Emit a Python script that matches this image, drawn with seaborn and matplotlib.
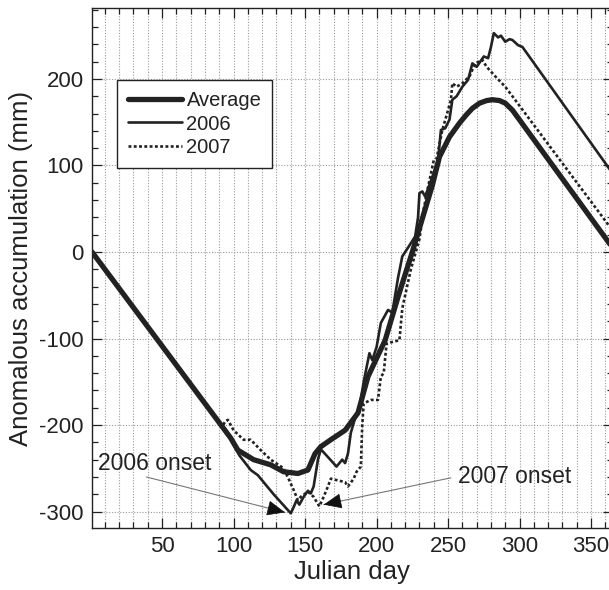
import matplotlib
matplotlib.use("Agg")
import matplotlib.pyplot as plt
import seaborn as sns
import pandas as pd

# ---- data ----
avg_days = [1, 98, 103, 114, 126, 135, 145, 152, 157, 161, 168, 178, 187, 194, 206, 215, 225,
            235, 239, 244, 251, 258, 263, 267, 272, 277, 281, 286, 290, 295, 365]
avg_vals = [0, -215, -229, -240, -246, -254, -256, -252, -233, -225, -217, -206, -186, -144, -102, -52, 0,
            55, 77, 110, 133, 149, 159, 166, 172, 175, 176, 175, 172, 164, 5]

y2006_days = [1, 96, 104, 112, 117, 128, 140, 142, 144, 146, 149, 152, 154, 156, 159, 161, 166, 172, 176,
              178, 180, 182, 185, 188, 191, 195, 197, 200, 203, 208, 211, 215, 218, 222, 227, 229, 230,
              232, 234, 239, 243, 245, 248, 251, 253, 256, 260, 264, 267, 270, 275, 278, 280, 282, 285,
              287, 290, 293, 295, 299, 302, 365]
y2006_vals = [0, -211, -235, -252, -258, -280, -302, -295, -287, -292, -283, -276, -279, -271, -240, -228,
              -237, -248, -240, -244, -233, -209, -192, -180, -150, -117, -125, -110, -82, -67, -70, -30,
              -5, 5, 18, 40, 68, 70, 64, 87, 106, 141, 143, 153, 176, 180, 191, 199, 218, 214, 226, 224,
              237, 253, 248, 250, 243, 246, 245, 239, 237, 91]

y2007_days = [1, 92, 94, 96, 100, 107, 112, 119, 126, 135, 139, 142, 145, 147, 152, 156, 160, 163, 166,
              168, 173, 178, 180, 184, 186, 189, 190, 191, 196, 201, 203, 205, 207, 211, 216, 218, 224,
              230, 233, 236, 240, 242, 246, 250, 252, 253, 256, 260, 265, 269, 274, 277, 283, 290, 295, 365]
y2007_vals = [0, -203, -196, -194, -206, -217, -217, -229, -240, -250, -264, -275, -287, -283, -277, -283,
              -294, -283, -271, -262, -264, -266, -271, -262, -254, -248, -200, -175, -171, -171, -144,
              -140, -106, -104, -102, -65, -20, 15, 50, 75, 106, 108, 141, 164, 176, 195, 191, 195, 203,
              218, 222, 214, 203, 191, 180, 25]

series_names = ["Average", "2006", "2007"]
x_ticks = [50, 100, 150, 200, 250, 300, 350]
y_ticks = [-300, -200, -100, 0, 100, 200]

# ---- style ----
sns.set_style("ticks")
plt.rcParams["font.family"] = ["Liberation Sans", "DejaVu Sans"]
plt.rcParams["axes.unicode_minus"] = False
ink = "#222222"

fig = plt.figure(figsize=(6.09, 5.90), dpi=100)
ax = fig.add_axes([92 / 609, 62 / 590, 520.5 / 609, 520 / 590])

df_avg = pd.DataFrame({"day": avg_days, "val": avg_vals})
df_06 = pd.DataFrame({"day": y2006_days, "val": y2006_vals})
df_07 = pd.DataFrame({"day": y2007_days, "val": y2007_vals})

sns.lineplot(data=df_07, x="day", y="val", ax=ax, color=ink, lw=1.9,
             linestyle=(0, (1.1, 0.9)), estimator=None, label=series_names[2], zorder=3)
sns.lineplot(data=df_06, x="day", y="val", ax=ax, color=ink, lw=1.9,
             estimator=None, label=series_names[1], zorder=4)
sns.lineplot(data=df_avg, x="day", y="val", ax=ax, color=ink, lw=3.8,
             estimator=None, label=series_names[0], zorder=5)

ax.set_xlim(1, 365)
ax.set_ylim(-319, 282)
ax.set_xticks(x_ticks)
ax.set_xticks(list(range(10, 370, 10)), minor=True)
ax.set_yticks(y_ticks)
ax.set_yticks(list(range(-300, 281, 20)), minor=True)
ax.set_yticklabels([str(v) for v in y_ticks])

ax.grid(which="both", axis="x", linestyle=(0, (1, 1.5)), color="#9a9a9a", lw=0.8)
ax.grid(which="major", axis="y", linestyle=(0, (1, 1.5)), color="#9a9a9a", lw=0.8)
ax.set_axisbelow(True)

ax.tick_params(which="both", direction="in", top=True, right=True, colors=ink,
               labelsize=16, width=0.9)
ax.tick_params(which="major", length=7, pad=6)
ax.tick_params(which="minor", length=4)
for s in ax.spines.values():
    s.set_color(ink)
    s.set_linewidth(1.0)

ax.set_xlabel("Julian day", fontsize=18.5, color=ink, labelpad=2)
ax.set_ylabel("Anomalous accumulation (mm)", fontsize=18.5, color=ink, labelpad=4)

# legend (order: Average, 2006, 2007)
h, l = ax.get_legend_handles_labels()
order = [l.index(n) for n in series_names]
leg = ax.legend([h[i] for i in order], [l[i] for i in order], loc="upper left",
                bbox_to_anchor=(0.048, 0.8615), borderaxespad=0, fontsize=14.5,
                handlelength=2.7, handletextpad=0.2, labelspacing=0.22,
                borderpad=0.55, fancybox=False, framealpha=1, edgecolor=ink)
leg.get_frame().set_linewidth(1.0)
for t in leg.get_texts():
    t.set_color(ink)

# annotations
line_kw = dict(arrowstyle="-", color="#777777", lw=0.8, shrinkA=0, shrinkB=0)
head_kw = dict(arrowstyle="-|>,head_length=0.9,head_width=0.38", color="#111111",
               lw=0.5, shrinkA=0, shrinkB=0, mutation_scale=13)

ax.text(5, -244, "2006 onset", fontsize=16.5, color=ink, va="center", ha="left")
ax.annotate("", xy=(136, -301), xytext=(39, -260), arrowprops=line_kw)
ax.annotate("", xy=(136, -301), xytext=(128, -297.6), arrowprops=head_kw)

ax.text(257, -260, "2007 onset", fontsize=16.5, color=ink, va="center", ha="left")
ax.annotate("", xy=(163, -292), xytext=(252, -261), arrowprops=line_kw)
ax.annotate("", xy=(163, -292), xytext=(171, -289.2), arrowprops=head_kw)

fig.savefig("out.png", dpi=100)
